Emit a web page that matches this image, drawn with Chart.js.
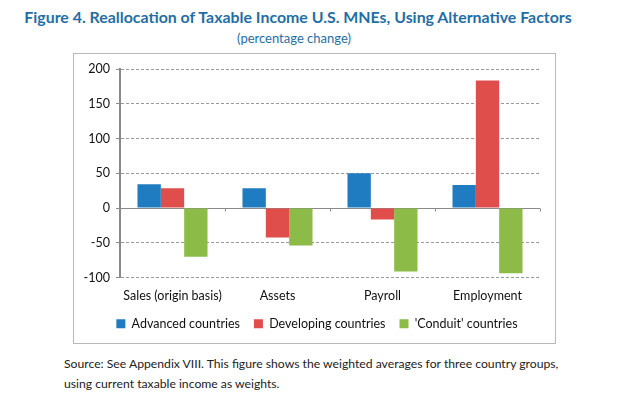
<!DOCTYPE html>
<html>
<head>
<meta charset="utf-8">
<script src="https://cdn.jsdelivr.net/npm/chart.js@4"></script>
<style>
  html, body { margin:0; padding:0; background:#fff; width:630px; height:397px; overflow:hidden; }
  body { position:relative; font-family: Lato, "Open Sans", sans-serif; }
  #title { position:absolute; left:4px; width:588px; top:7px; text-align:center; color:#1f6fa6; font-weight:bold; font-size:15.9px; line-height:20px; white-space:nowrap; }
  #subtitle { position:absolute; left:0; width:588px; top:28px; text-align:center; color:#1f6fa6; font-size:13px; line-height:20px; white-space:nowrap; }
  #box { position:absolute; left:73px; top:53px; width:481px; height:289px; border:1px solid #b8b8b8; }
  #box canvas { position:absolute; left:0; top:0; }
  .src { position:absolute; left:64px; font-size:12.2px; color:#222; white-space:nowrap; line-height:18px; }
</style>
</head>
<body>
<div id="title">Figure 4. Reallocation of Taxable Income U.S. MNEs, Using Alternative Factors</div>
<div id="subtitle">(percentage change)</div>
<div id="box"><canvas id="c" width="481" height="289"></canvas></div>
<div class="src" style="top:355px;">Source: See Appendix VIII. This figure shows the weighted averages for three country groups,</div>
<div class="src" style="top:375px;">using current taxable income as weights.</div>
<script>
const categories = ["Sales (origin basis)", "Assets", "Payroll", "Employment"];
const seriesNames = ["Advanced countries", "Developing countries", "'Conduit' countries"];
const advanced = [34, 28.5, 50, 33];
const developing = [28.5, -42.5, -16.5, 183.5];
const conduit = [-70, -54, -91.5, -94];
const yTicks = [-100, -50, 0, 50, 100, 150, 200];

const colors = ["#1f7cc1", "#df4e4b", "#8cbb48"];

const zeroLine = {
  id: 'zeroLine',
  afterLayout(chart) {
    if (chart.legend) {
      chart.legend.left += 10; chart.legend.right += 10;
      chart.legend.top -= 3; chart.legend.bottom -= 3;
    }
  },
  beforeDatasetsDraw(chart) {
    const {ctx, scales:{x, y}, chartArea} = chart;
    const y0 = Math.round(y.getPixelForValue(0)) + 0.5;
    ctx.save();
    ctx.strokeStyle = '#8a8a8a';
    ctx.lineWidth = 1;
    ctx.beginPath();
    ctx.moveTo(chartArea.left, y0);
    ctx.lineTo(chartArea.right, y0);
    const w = (chartArea.right - chartArea.left) / categories.length;
    for (let i = 1; i <= categories.length; i++) {
      const xx = Math.round(chartArea.left + i * w) + 0.5;
      ctx.moveTo(xx, y0);
      ctx.lineTo(xx, y0 + 3);
    }
    ctx.stroke();
    ctx.restore();
  }
};

new Chart(document.getElementById('c'), {
  type: 'bar',
  data: {
    labels: categories,
    datasets: [
      { label: seriesNames[0], data: advanced, backgroundColor: colors[0] },
      { label: seriesNames[1], data: developing, backgroundColor: colors[1] },
      { label: seriesNames[2], data: conduit, backgroundColor: colors[2] }
    ]
  },
  options: {
    responsive: false,
    animation: false,
    devicePixelRatio: 1,
    layout: { padding: { top: 15, right: 15, bottom: 0, left: 0 } },
    datasets: { bar: { categoryPercentage: 0.667, barPercentage: 1.0, borderWidth: 0 } },
    plugins: {
      tooltip: { enabled: false },
      legend: {
        position: 'bottom',
        labels: {
          boxWidth: 9, boxHeight: 9, padding: 14,
          color: '#111',
          font: { family: 'Lato, "Open Sans", sans-serif', size: 12.5 }
        }
      }
    },
    scales: {
      x: {
        grid: { display: false, drawTicks: false },
        border: { display: false },
        ticks: { color: '#111', padding: 11, font: { family: 'Lato, "Open Sans", sans-serif', size: 12.5 } },
        afterFit(scale) { scale.height = 29; }
      },
      y: {
        min: -100, max: 200,
        afterBuildTicks(scale) { scale.ticks = yTicks.map(v => ({ value: v })); },
        grid: { color: '#9a9a9a', lineWidth: 1, drawTicks: true, tickLength: 4, tickColor: '#8a8a8a', tickBorderDash: [] },
        border: { display: true, color: '#8a8a8a', width: 2, dash: [3, 2] },
        ticks: { color: '#111', padding: 6, font: { family: 'Lato, "Open Sans", sans-serif', size: 12.5 } },
        afterFit(scale) { scale.width = 46; }
      }
    }
  },
  plugins: [zeroLine]
});
</script>
</body>
</html>
